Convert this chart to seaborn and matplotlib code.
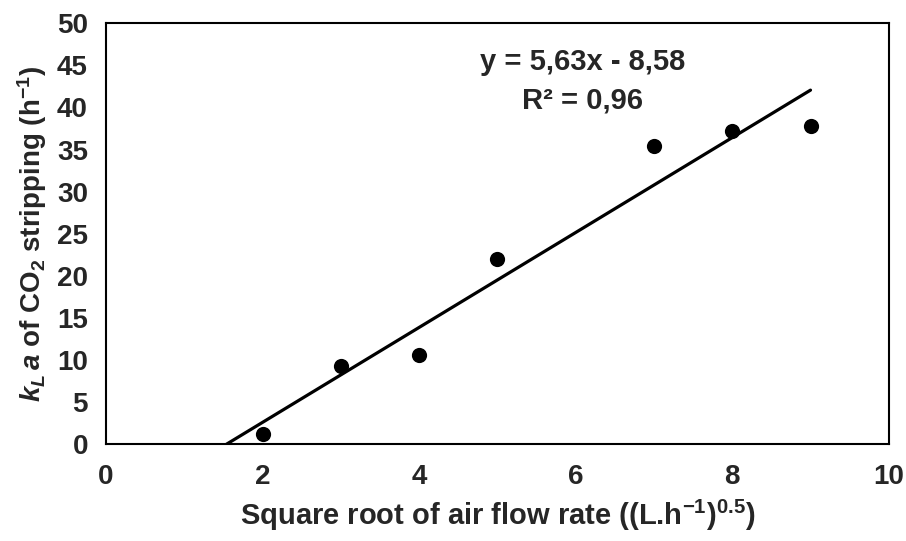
import numpy as np
import pandas as pd
import matplotlib
matplotlib.use("Agg")
import matplotlib.pyplot as plt
import seaborn as sns

# data
air_flow_sqrt = [2, 3, 4, 5, 7, 8, 9]
kla_co2 = [1.15, 9.3, 10.6, 22.0, 35.4, 37.2, 37.8]

sns.set_style("white")
plt.rcParams['font.family'] = ['Liberation Sans', 'DejaVu Sans']
plt.rcParams['font.weight'] = 'bold'
plt.rcParams['mathtext.fontset'] = 'custom'
plt.rcParams['mathtext.rm'] = 'Liberation Sans:bold'
plt.rcParams['mathtext.bf'] = 'Liberation Sans:bold'
plt.rcParams['mathtext.it'] = 'Liberation Sans:bold:italic'

df = pd.DataFrame({"x": air_flow_sqrt, "y": kla_co2})

fig = plt.figure(figsize=(9.06, 5.41), dpi=100)
ax = fig.add_axes([0.117, 0.179, 0.864, 0.778])

# linear trendline, drawn from y=0 up to the last point
slope, intercept = np.polyfit(df.x, df.y, 1)
x0 = -intercept / slope
line_df = pd.DataFrame({"x": [x0, max(air_flow_sqrt)]})
line_df["y"] = slope * line_df.x + intercept
sns.lineplot(data=line_df, x="x", y="y", ax=ax, color="black", linewidth=2.3)

sns.scatterplot(data=df, x="x", y="y", ax=ax, color="black", s=120,
                edgecolor="black", linewidth=0, zorder=3)

ax.set_xlim(0, 10)
ax.set_ylim(0, 50)
ax.set_xticks(range(0, 11, 2))
ax.set_yticks(range(0, 51, 5))
ax.tick_params(length=0, labelsize=20)
ax.tick_params(axis="y", pad=13)
ax.tick_params(axis="x", pad=14)
for lab in ax.get_xticklabels() + ax.get_yticklabels():
    lab.set_fontweight("bold")
for sp in ax.spines.values():
    sp.set_color("black")
    sp.set_linewidth(1.5)

ax.set_xlabel(r"Square root of air flow rate ((L.h$^{-1}$)$^{0.5}$)",
              fontsize=21, fontweight="bold", labelpad=6)
ax.set_ylabel(r"$\mathit{k_L\,a}$ of CO$_2$ stripping (h$^{-1}$)",
              fontsize=20, fontweight="bold", labelpad=6)

ax.text(6.09, 45.4, "y = 5,63x - 8,58", ha="center", va="center",
        fontsize=21, fontweight="bold")
ax.text(6.09, 40.8, "R² = 0,96", ha="center", va="center",
        fontsize=21, fontweight="bold")

fig.savefig("out.png", dpi=100)
